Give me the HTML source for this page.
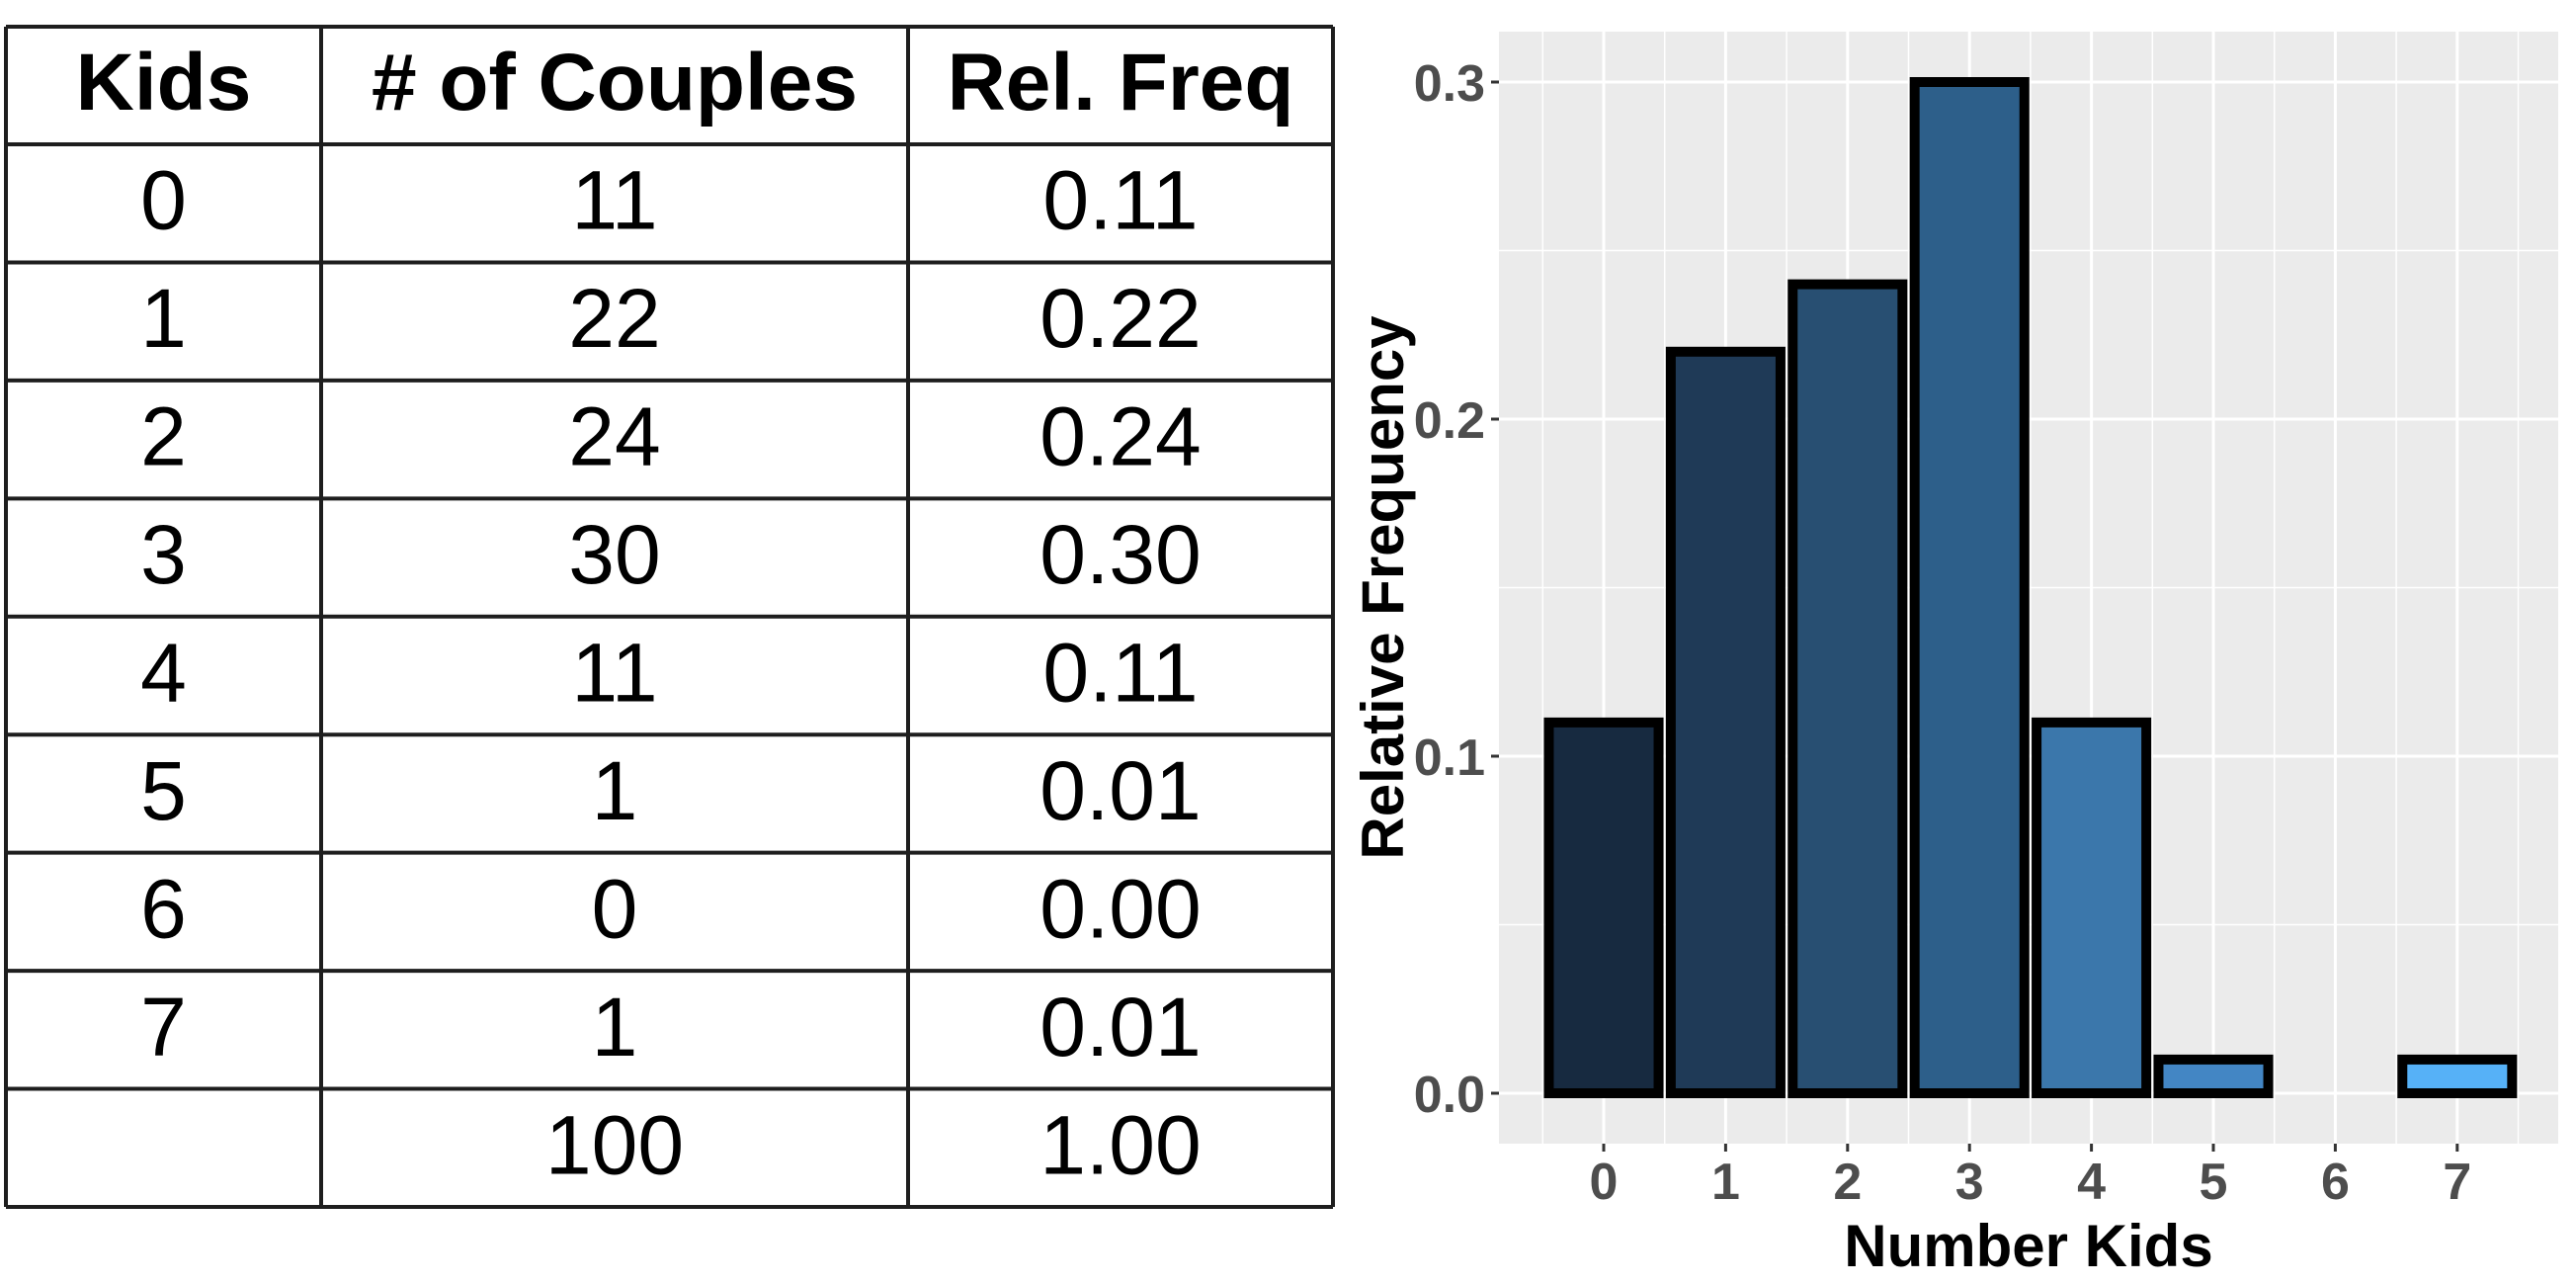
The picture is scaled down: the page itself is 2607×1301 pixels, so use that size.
<!DOCTYPE html>
<html><head><meta charset="utf-8">
<style>
html,body{margin:0;padding:0;background:#fff;}
svg{display:block;}
</style></head>
<body>
<svg id="root" width="2607" height="1301" viewBox="0 0 2607 1301" xmlns="http://www.w3.org/2000/svg">
<g id="table" font-family="Liberation Sans, sans-serif" fill="#000"></g>
<g id="chart" font-family="Liberation Sans, sans-serif"></g>
</svg>
<script>
// ---- data ----
const kids = ["0","1","2","3","4","5","6","7"];
const couples = [11,22,24,30,11,1,0,1];
const relFreq = [0.11,0.22,0.24,0.30,0.11,0.01,0.00,0.01];
const yTicks = [0,0.1,0.2,0.3];
const yTickLabels = ["0.0","0.1","0.2","0.3"];
const barColors = ["#172a40","#1f3a57","#284f72","#2d5f8a","#3b77ab","#4386c4","#4c9bdd","#56b1f7"];

const NS="http://www.w3.org/2000/svg";
function mk(tag, attrs, parent){const e=document.createElementNS(NS,tag);for(const k in attrs)e.setAttribute(k,attrs[k]);parent.appendChild(e);return e;}

// ---- table ----
const T=document.getElementById('table');
const tL=6,tR=1349,tTop=27,hdrB=146,tB=1221;
const colX=[6,325,919,1349];
const rowH=(tB-hdrB)/9;
const headers=["Kids","# of Couples","Rel. Freq"];
headers.forEach((h,i)=>{
  const t=mk('text',{x:(colX[i]+colX[i+1])/2,y:111,'text-anchor':'middle','font-size':82,'font-weight':'bold'},T);
  t.textContent=h;
  
  
});
const rows=kids.map((k,i)=>[k,String(couples[i]),relFreq[i].toFixed(2)]);
rows.push(["",String(couples.reduce((a,b)=>a+b,0)),relFreq.reduce((a,b)=>a+b,0).toFixed(2)]);
rows.forEach((r,ri)=>{
  const cy=hdrB+rowH*ri+rowH/2;
  r.forEach((v,ci)=>{
    if(v==="")return;
    const t=mk('text',{x:(colX[ci]+colX[ci+1])/2,y:cy+26,'text-anchor':'middle','font-size':84},T);
    t.textContent=v;
    
    
  });
});
// grid lines
const lineStyle={stroke:'#1e1e1e','stroke-width':4};
const hl=[tTop,hdrB];for(let i=1;i<=9;i++)hl.push(hdrB+rowH*i);
hl.forEach((y,i)=>{const l=mk('line',Object.assign({x1:tL,x2:tR,y1:y,y2:y},lineStyle),T);
  
  });
colX.forEach(x=>{const l=mk('line',Object.assign({x1:x,x2:x,y1:tTop,y2:tB},lineStyle),T);
  
  });

// ---- chart ----
const C=document.getElementById('chart');
const pL=1517,pR=2589,pT=32,pB=1157;
const x0=1623,dx=123.4;
const y0=1106,yk=3410;
const xs=i=>x0+i*dx;
const ys=v=>y0-v*yk;
const panel=mk('rect',{x:pL,y:pT,width:pR-pL,height:pB-pT,fill:'#ebebeb'},C);


// minor y grid
for(let i=0;i<yTicks.length;i++){
  const v=yTicks[i]+0.05;
  if(ys(v)>pT){const l=mk('line',{x1:pL,x2:pR,y1:ys(v),y2:ys(v),stroke:'#fff','stroke-width':1.5},C);
  
  }
}
// minor x grid
for(let i=-1;i<kids.length;i++){
  const l=mk('line',{x1:xs(i+0.5),x2:xs(i+0.5),y1:pT,y2:pB,stroke:'#fff','stroke-width':1.5},C);
  
  
}
yTicks.forEach((v,i)=>{
  const l=mk('line',{x1:pL,x2:pR,y1:ys(v),y2:ys(v),stroke:'#fff','stroke-width':3},C);
  
  
  const tk=mk('line',{x1:pL-8,x2:pL,y1:ys(v),y2:ys(v),stroke:'#333','stroke-width':3},C);
  
  
  const t=mk('text',{x:pL-14,y:ys(v)+19,'text-anchor':'end','font-size':52,'font-weight':'bold',fill:'#4d4d4d'},C);
  t.textContent=yTickLabels[i];
  
  
});
kids.forEach((k,i)=>{
  const l=mk('line',{x1:xs(i),x2:xs(i),y1:pT,y2:pB,stroke:'#fff','stroke-width':3},C);
  
  
  const tk=mk('line',{x1:xs(i),x2:xs(i),y1:pB,y2:pB+8,stroke:'#333','stroke-width':3},C);
  
  
  const t=mk('text',{x:xs(i),y:1213,'text-anchor':'middle','font-size':52,'font-weight':'bold',fill:'#4d4d4d'},C);
  t.textContent=k;
  
  
});
// bars
const bw=dx*0.9;
relFreq.forEach((v,i)=>{
  const top=ys(v),h=Math.max(0,y0-top);
  const r=mk('rect',{x:xs(i)-bw/2,y:top,width:bw,height:h,fill:barColors[i],stroke:'#000','stroke-width':10},C);
  
  
});
const xt=mk('text',{x:(pL+pR)/2,y:1281,'text-anchor':'middle','font-size':60,'font-weight':'bold',fill:'#000'},C);
xt.textContent='Number Kids';


const yt=mk('text',{x:0,y:0,'text-anchor':'middle','font-size':60,'font-weight':'bold',fill:'#000',transform:'translate(1420,'+((pT+pB)/2)+') rotate(-90)'},C);
yt.textContent='Relative Frequency';


</script>
</body></html>
